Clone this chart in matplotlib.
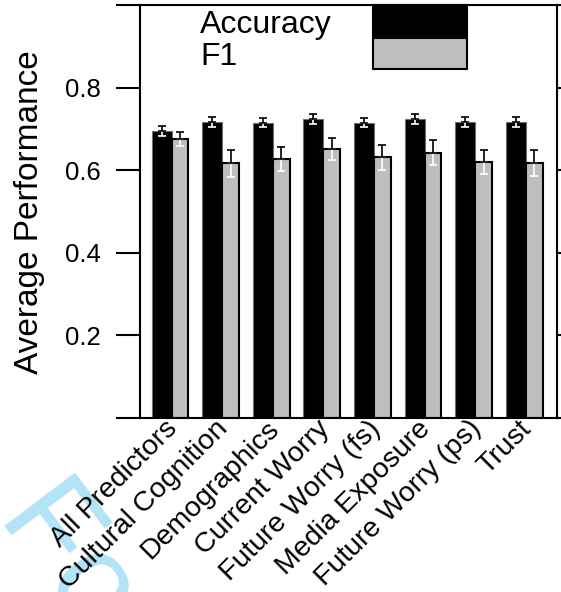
import matplotlib
matplotlib.use('Agg')
import matplotlib.pyplot as plt
from matplotlib.patches import Rectangle
import numpy as np

# ------------------------------------------------------------------------------------
# ------------------------------- Data -----------------------------------------------
# ------------------------------------------------------------------------------------
categories = ['All Predictors', 'Cultural Cognition', 'Demographics', 'Current Worry',
              'Future Worry (fs)', 'Media Exposure', 'Future Worry (ps)', 'Trust']
accuracy = [0.695, 0.717, 0.715, 0.724, 0.715, 0.724, 0.717, 0.716]
accuracy_err = [0.011, 0.013, 0.011, 0.011, 0.011, 0.011, 0.012, 0.012]
f1 = [0.675, 0.617, 0.626, 0.652, 0.631, 0.642, 0.620, 0.618]
f1_err = [0.017, 0.033, 0.029, 0.027, 0.030, 0.030, 0.029, 0.031]

# ------------------------------------------------------------------------------------
# ------------------------------- Figure ---------------------------------------------
# ------------------------------------------------------------------------------------
plt.rcParams['font.family'] = ['Liberation Sans', 'DejaVu Sans']

fig = plt.figure(figsize=(5.61, 5.92), dpi=100)
ax1 = fig.add_axes([140/561, 1 - 418/592, 417/561, 413/592])
ax1.patch.set_alpha(0)

# watermark left over from the review copy (sits behind everything)
fig.text(-0.005, 0.126, 'For Peer Review', color='#b3e3f7', fontsize=92,
         rotation=-53, rotation_mode='anchor', ha='left', va='baseline', zorder=-1)

x = np.arange(len(categories))
grey = '#bebebe'

ax1.bar(x, accuracy, width=-0.395, align='edge', color='k', edgecolor='#6f6f6f',
        linewidth=0.8, zorder=2)
ax1.bar(x, f1, width=0.33, align='edge', color=grey, edgecolor='k',
        linewidth=1.5, zorder=2)

# error bars: lower half white (inside bar), upper half black
xa = x - 0.395/2
xf = x + 0.33/2
zeros = np.zeros(len(x))
for xs, vals, errs in [(xa, accuracy, accuracy_err), (xf, f1, f1_err)]:
    ax1.errorbar(xs, vals, yerr=[errs, zeros], fmt='none', ecolor='white',
                 elinewidth=1.2, capsize=3, capthick=1.2, zorder=3)
    ax1.errorbar(xs, vals, yerr=[zeros, errs], fmt='none', ecolor='k',
                 elinewidth=1.2, capsize=3, capthick=1.2, zorder=4)

# ------ Axes --------
ax1.set_xlim(-0.626, 7.615)
ax1.set_ylim(0, 1)
ax1.set_yticks([0, 0.2, 0.4, 0.6, 0.8, 1.0])
ax1.set_yticklabels(['', '0.2', '0.4', '0.6', '0.8', ''])
ax1.tick_params(axis='y', which='both', direction='out', length=17, width=1.5,
                labelsize=18.5, pad=11, right=True)
ax1.set_xticks(x + 0.04)
ax1.set_xticklabels(categories, rotation=45, ha='right', va='center',
                    rotation_mode='anchor', fontsize=20.5)
ax1.tick_params(axis='x', length=0, pad=5)
for axis in ['top', 'bottom', 'left', 'right']:
    ax1.spines[axis].set_linewidth(1.5)
    ax1.spines[axis].set_zorder(5)

fig.text(30/561, 1 - 212/592, 'Average Performance', rotation=90, ha='center',
         va='center', fontsize=24)

# ------ Legend (text left, filled boxes right) --------
ax1.add_patch(Rectangle((0.558, 0.920), 0.227, 0.080, transform=ax1.transAxes,
                        facecolor='k', edgecolor='k', linewidth=1.5, clip_on=False, zorder=6))
ax1.add_patch(Rectangle((0.558, 0.844), 0.227, 0.076, transform=ax1.transAxes,
                        facecolor=grey, edgecolor='k', linewidth=1.5, clip_on=False, zorder=6))
ax1.text(0.144, 0.932, 'Accuracy', transform=ax1.transAxes, fontsize=23,
         ha='left', va='baseline')
ax1.text(0.144, 0.854, 'F1', transform=ax1.transAxes, fontsize=23,
         ha='left', va='baseline')

plt.savefig('out.png', dpi=100)
